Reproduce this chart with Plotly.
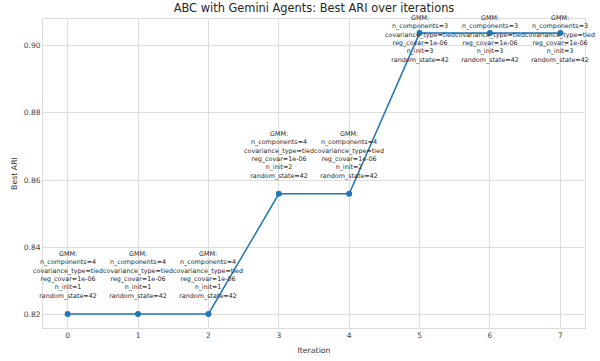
import plotly.graph_objects as go

iterations = [0, 1, 2, 3, 4, 5, 6, 7]
best_ari = [0.8202, 0.8202, 0.8202, 0.8559, 0.8559, 0.9037, 0.9037, 0.9037]
n_components = [4, 4, 4, 4, 4, 3, 3, 3]
covariance_type = ["tied"] * 8
reg_covar = ["1e-06"] * 8
n_init = [1, 1, 1, 2, 2, 3, 3, 3]
random_state = [42] * 8

line_color = "#1f77b4"
font = "DejaVu Sans"

fig = go.Figure()
fig.add_trace(go.Scatter(
    x=iterations, y=best_ari, mode="lines+markers",
    line=dict(color=line_color, width=1.5),
    marker=dict(color=line_color, size=6),
    showlegend=False,
))

for i, (x, y) in enumerate(zip(iterations, best_ari)):
    txt = "<br>".join([
        "GMM:",
        f"n_components={n_components[i]}",
        f"covariance_type={covariance_type[i]}",
        f"reg_covar={reg_covar[i]}",
        f"n_init={n_init[i]}",
        f"random_state={random_state[i]}",
    ])
    top = y > 0.9
    fig.add_annotation(
        x=x, y=y, xref="x", yref="y", text=txt, showarrow=False,
        xanchor="center", yanchor="middle" if top else "bottom",
        yshift=-6 if top else 12,
        font=dict(family=font, size=6.4, color="#2a2a2a"),
        align="center",
    )

fig.update_layout(
    width=600, height=361,
    margin=dict(l=43, r=15, t=19, b=33),
    paper_bgcolor="white", plot_bgcolor="white",
    font=dict(family=font, color="#333333"),
    title=dict(text="ABC with Gemini Agents: Best ARI over iterations",
               x=(43 + 585) / 2 / 600, xanchor="center", y=1 - 8.5 / 361, yanchor="middle",
               font=dict(size=11.4, color="#262626")),
    xaxis=dict(range=[-0.35, 7.35], tickvals=iterations, ticktext=[str(v) for v in iterations],
               showgrid=True, gridcolor="#dddddd", gridwidth=1, zeroline=False,
               showline=True, linecolor="#dddddd", mirror=True, automargin=False,
               tickfont=dict(size=7.5, color="#444444"),
               title=dict(text="Iteration", font=dict(size=7.8, color="#333333"), standoff=8),
               ticks=""),
    yaxis=dict(range=[0.8160, 0.9079], tickvals=[0.82, 0.84, 0.86, 0.88, 0.90],
               ticktext=["0.82", "0.84", "0.86", "0.88", "0.90"],
               showgrid=True, gridcolor="#dddddd", gridwidth=1, zeroline=False,
               showline=True, linecolor="#dddddd", mirror=True, automargin=False,
               tickfont=dict(size=7.5, color="#444444"),
               title=dict(text="Best ARI", font=dict(size=7.8, color="#333333"), standoff=5),
               ticks=""),
)

fig.write_html("out.html")
